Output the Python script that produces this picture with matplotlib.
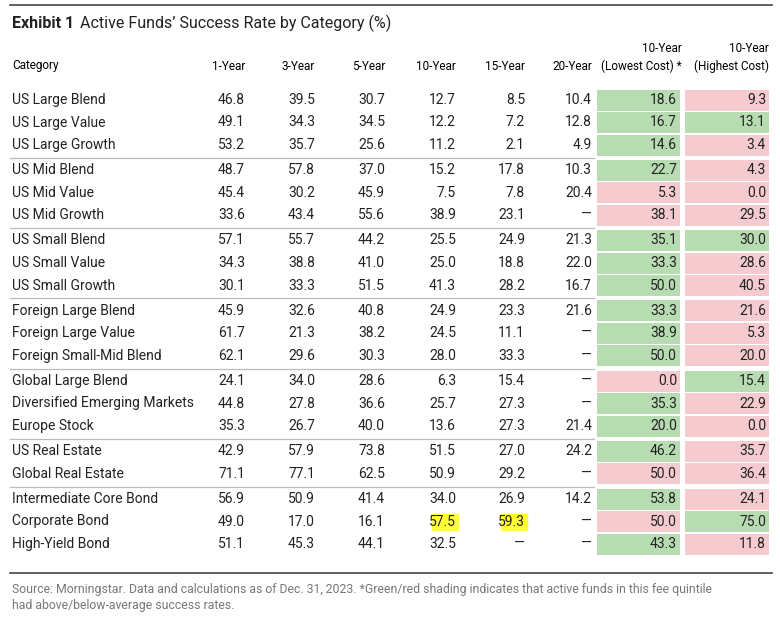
import matplotlib.pyplot as plt
from matplotlib.patches import Rectangle

plt.rcParams['font.family'] = ['Roboto', 'DejaVu Sans']
plt.rcParams['font.stretch'] = 'condensed'

groups = [
    ["US Large Blend", "US Large Value", "US Large Growth"],
    ["US Mid Blend", "US Mid Value", "US Mid Growth"],
    ["US Small Blend", "US Small Value", "US Small Growth"],
    ["Foreign Large Blend", "Foreign Large Value", "Foreign Small-Mid Blend"],
    ["Global Large Blend", "Diversified Emerging Markets", "Europe Stock"],
    ["US Real Estate", "Global Real Estate"],
    ["Intermediate Core Bond", "Corporate Bond", "High-Yield Bond"],
]
periods = ["1-Year", "3-Year", "5-Year", "10-Year", "15-Year", "20-Year"]
D = "—"
values = [
    ["46.8", "39.5", "30.7", "12.7", "8.5", "10.4"],
    ["49.1", "34.3", "34.5", "12.2", "7.2", "12.8"],
    ["53.2", "35.7", "25.6", "11.2", "2.1", "4.9"],
    ["48.7", "57.8", "37.0", "15.2", "17.8", "10.3"],
    ["45.4", "30.2", "45.9", "7.5", "7.8", "20.4"],
    ["33.6", "43.4", "55.6", "38.9", "23.1", D],
    ["57.1", "55.7", "44.2", "25.5", "24.9", "21.3"],
    ["34.3", "38.8", "41.0", "25.0", "18.8", "22.0"],
    ["30.1", "33.3", "51.5", "41.3", "28.2", "16.7"],
    ["45.9", "32.6", "40.8", "24.9", "23.3", "21.6"],
    ["61.7", "21.3", "38.2", "24.5", "11.1", D],
    ["62.1", "29.6", "30.3", "28.0", "33.3", D],
    ["24.1", "34.0", "28.6", "6.3", "15.4", D],
    ["44.8", "27.8", "36.6", "25.7", "27.3", D],
    ["35.3", "26.7", "40.0", "13.6", "27.3", "21.4"],
    ["42.9", "57.9", "73.8", "51.5", "27.0", "24.2"],
    ["71.1", "77.1", "62.5", "50.9", "29.2", D],
    ["56.9", "50.9", "41.4", "34.0", "26.9", "14.2"],
    ["49.0", "17.0", "16.1", "57.5", "59.3", D],
    ["51.1", "45.3", "44.1", "32.5", D, D],
]
lowest = ["18.6", "16.7", "14.6", "22.7", "5.3", "38.1", "35.1", "33.3", "50.0", "33.3",
          "38.9", "50.0", "0.0", "35.3", "20.0", "46.2", "50.0", "53.8", "50.0", "43.3"]
lowest_good = "GGGGRRGGGGGGRGGGRGRG"
highest = ["9.3", "13.1", "3.4", "4.3", "0.0", "29.5", "30.0", "28.6", "40.5", "21.6",
           "5.3", "20.0", "15.4", "22.9", "0.0", "35.7", "36.4", "24.1", "75.0", "11.8"]
highest_good = "RGRRRRGRRRRRGRRRRRGR"
highlight = {(18, 3), (18, 4)}

GREEN, RED = "#b8dcb2", "#f6cbd0"

fig = plt.figure(figsize=(7.8, 6.18), dpi=100)
ax = fig.add_axes([0, 0, 1, 1])
ax.set_xlim(0, 780)
ax.set_ylim(618, 0)
ax.axis("off")

fs = 10
ax.plot([10, 772], [5, 5], color="#444444", lw=1.2)
ax.text(12, 23, "Exhibit 1", fontsize=11.5, fontweight="bold", va="center", color="#222222")
ax.text(80, 23, "Active Funds’ Success Rate by Category (%)", fontsize=11.5, va="center", color="#222222")

col_x = [245, 315, 385, 456, 525, 592]
low_x, high_x = (597, 680), (685, 769)
hs = 8.5
ax.text(12, 66, "Category", fontsize=hs, va="center")
for x, p in zip(col_x, periods):
    ax.text(x, 66, p, fontsize=hs, va="center", ha="right")
ax.text(low_x[1] + 2, 48, "10-Year", fontsize=hs, va="center", ha="right")
ax.text(low_x[1] + 2, 66, "(Lowest Cost) *", fontsize=hs, va="center", ha="right")
ax.text(high_x[1], 48, "10-Year", fontsize=hs, va="center", ha="right")
ax.text(high_x[1], 66, "(Highest Cost)", fontsize=hs, va="center", ha="right")

i = 0
for g, names in enumerate(groups):
    if g > 0:
        ysep = 100 + 22.5 * i + 2.75 * g - 12.5
        ax.plot([10, 594], [ysep, ysep], color="#bbbbbb", lw=0.9)
    for name in names:
        y = 100 + 22.5 * i + 2.75 * g
        ax.text(12, y, name, fontsize=fs, va="center", color="#222222")
        for j, (x, v) in enumerate(zip(col_x, values[i])):
            if (i, j) in highlight:
                ax.add_patch(Rectangle((x - 24, y - 8), 26, 16, color="#ffff33", zorder=1))
            ax.text(x, y, v, fontsize=fs, va="center", ha="right", color="#222222", zorder=2)
        for (x0, x1), v, good in ((low_x, lowest[i], lowest_good[i]), (high_x, highest[i], highest_good[i])):
            ax.add_patch(Rectangle((x0, y - 10.5), x1 - x0, 21, color=GREEN if good == "G" else RED, lw=0))
            ax.text(x1 - 3, y, v, fontsize=fs, va="center", ha="right", color="#222222")
        i += 1

ax.plot([10, 772], [573, 573], color="#444444", lw=1.2)
ax.text(12, 590, "Source: Morningstar. Data and calculations as of Dec. 31, 2023. *Green/red shading indicates that active funds in this fee quintile",
        fontsize=8.8, va="center", color="#777777")
ax.text(12, 606, "had above/below-average success rates.", fontsize=8.8, va="center", color="#777777")

fig.savefig("out.png", dpi=100)
